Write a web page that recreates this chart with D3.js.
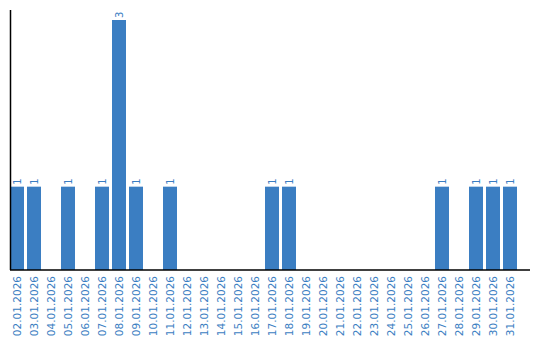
<!DOCTYPE html>
<html>
<head>
<meta charset="utf-8">
<script src="https://cdn.jsdelivr.net/npm/d3@7"></script>
<style>
  body { margin: 0; background: #fff; }
  text { font-family: "DejaVu Sans", sans-serif; }
</style>
</head>
<body>
<svg id="chart" width="540" height="340"></svg>
<script>
const days = ["02.01.2026","03.01.2026","04.01.2026","05.01.2026","06.01.2026","07.01.2026",
  "08.01.2026","09.01.2026","10.01.2026","11.01.2026","12.01.2026","13.01.2026","14.01.2026",
  "15.01.2026","16.01.2026","17.01.2026","18.01.2026","19.01.2026","20.01.2026","21.01.2026",
  "22.01.2026","23.01.2026","24.01.2026","25.01.2026","26.01.2026","27.01.2026","28.01.2026",
  "29.01.2026","30.01.2026","31.01.2026"]
const counts = [1,1,0,1,0,1,3,1,0,1,0,0,0,0,0,1,1,0,0,0,0,0,0,0,0,1,0,1,1,1]

const blue = "#3b7ec2"
const svg = d3.select('#chart')

const xScale = d3.scaleBand().domain(days).range([10, 517]).paddingInner(3 / 17).paddingOuter(0)
const yScale = d3.scaleLinear().domain([0, 3]).range([270, 20])

// bars
svg.selectAll('rect.bar')
  .data(days)
  .join('rect')
  .attr('class', 'bar')
  .attr('x', d => xScale(d))
  .attr('width', xScale.bandwidth())
  .attr('y', (d, i) => yScale(counts[i]))
  .attr('height', (d, i) => yScale(0) - yScale(counts[i]))
  .attr('fill', blue)

// value labels
svg.selectAll('text.val')
  .data(days.filter((d, i) => counts[i] > 0))
  .join('text')
  .attr('class', 'val')
  .attr('transform', d => `translate(${xScale(d) + xScale.bandwidth() / 2 + 3.5}, ${yScale(counts[days.indexOf(d)]) - 2}) rotate(-90)`)
  .attr('font-size', 10)
  .attr('fill', blue)
  .text(d => counts[days.indexOf(d)])

// x axis
const xAxis = svg.append('g').attr('transform', 'translate(0, 270)')
  .call(d3.axisBottom(xScale).tickSize(0).tickPadding(0))
xAxis.select('.domain').remove()
xAxis.append('line').attr('x1', 10).attr('x2', 530).attr('stroke', '#000').attr('stroke-width', 1.5)
xAxis.selectAll('.tick text')
  .attr('transform', 'rotate(-90)')
  .attr('text-anchor', 'end')
  .attr('x', -6)
  .attr('y', 0)
  .attr('dy', '0.35em')
  .attr('font-size', 10.5)
  .attr('font-family', '"DejaVu Sans", sans-serif')
  .attr('fill', blue)

// y axis line
svg.append('line')
  .attr('x1', 10.5).attr('x2', 10.5)
  .attr('y1', 10).attr('y2', 270)
  .attr('stroke', '#000').attr('stroke-width', 1.5)
</script>
</body>
</html>
